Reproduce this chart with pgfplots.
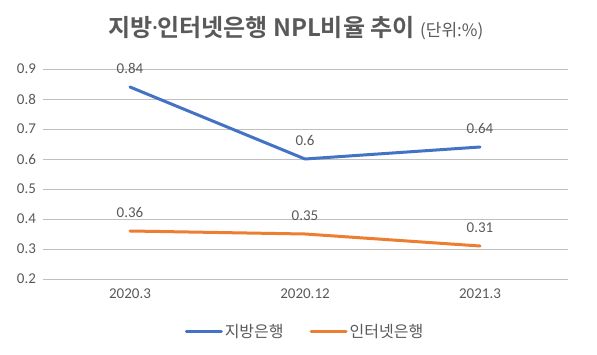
\documentclass[border=0pt]{standalone}
\usepackage{pgfplots}
\pgfplotsset{compat=1.18}
\usepackage{fontspec}
\setmainfont{Carlito}
\newfontfamily\kr{Noto Sans CJK KR}
\newfontfamily\krb{Noto Sans CJK KR Bold}
\newfontfamily\ns{Noto Sans}
\definecolor{txt}{HTML}{595959}
\definecolor{grid}{HTML}{D9D9D9}
\definecolor{blu}{HTML}{4472C4}
\definecolor{org}{HTML}{ED7D31}
\begin{document}
\begin{tikzpicture}[x=1pt,y=1pt]
\path[use as bounding box] (0,0) rectangle (597,355);
\begin{axis}[
  at={(42.5pt,76pt)}, anchor=south west,
  scale only axis, width=525pt, height=210pt,
  xmin=-0.5, xmax=2.5, ymin=0.2, ymax=0.9,
  xtick={0,1,2}, xticklabels={2020.3,2020.12,2021.3},
  ytick={0.2,0.3,...,0.9},
  yticklabel style={/pgf/number format/fixed,/pgf/number format/precision=1},
  /pgf/number format/assume math mode=true,
  ymajorgrids, xmajorgrids=false, grid style={grid, line width=0.75pt},
  axis line style={draw=none},
  major tick length=0pt, tick style={draw=none},
  tick label style={font=\fontsize{15}{17}\selectfont, text=txt},
  yticklabel style={xshift=-3pt},
  xticklabel style={yshift=-6pt},
  legend style={at={(0.5,-0.252)}, anchor=center, draw=none, fill=none,
    font=\kr\fontsize{16}{18}\selectfont, text=txt,
    /tikz/every even column/.append style={column sep=24pt}},
  legend columns=2,
  legend image code/.code={\draw[#1, line width=3pt] (0pt,0pt) -- (35pt,0pt);},
  nodes near coords,
  every node near coord/.append style={font=\fontsize{15}{17}\selectfont, text=txt, yshift=9pt},
  point meta=explicit symbolic,
  clip=false,
]
\addplot[blu, line width=3pt, line cap=round, line join=round] coordinates {(0,0.84) [0.84] (1,0.6) [0.6] (2,0.64) [0.64]};
\addlegendentry{지방은행}
\addplot[org, line width=3pt, line cap=round, line join=round] coordinates {(0,0.36) [0.36] (1,0.35) [0.35] (2,0.31) [0.31]};
\addlegendentry{인터넷은행}
\end{axis}
\node[text=txt, anchor=base] at (296,318) {\krb\fontsize{24}{28}\selectfont 지방{\ns\bfseries\kern-1pt·\kern-1pt}인터넷은행 NPL비율 추이 \kr\fontsize{17}{20}\selectfont(단위:\%)};
\end{tikzpicture}
\end{document}
